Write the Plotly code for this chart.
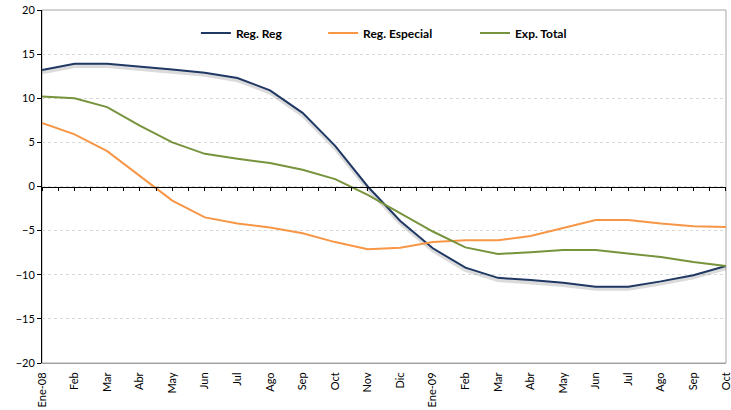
import plotly.graph_objects as go

categories = ["Ene-08", "Feb", "Mar", "Abr", "May", "Jun", "Jul", "Ago", "Sep", "Oct",
              "Nov", "Dic", "Ene-09", "Feb", "Mar", "Abr", "May", "Jun", "Jul", "Ago", "Sep", "Oct"]
reg_reg = [13.2, 13.9, 13.9, 13.6, 13.25, 12.9, 12.3, 10.9, 8.35, 4.6,
           0.0, -3.9, -7.0, -9.2, -10.35, -10.6, -10.9, -11.35, -11.35, -10.75, -10.05, -9.0]
reg_especial = [7.2, 5.9, 4.0, 1.2, -1.6, -3.5, -4.2, -4.65, -5.3, -6.3,
                -7.1, -6.95, -6.3, -6.1, -6.1, -5.6, -4.7, -3.8, -3.8, -4.2, -4.5, -4.6]
exp_total = [10.2, 10.0, 9.0, 6.9, 5.0, 3.7, 3.15, 2.65, 1.9, 0.84,
             -0.95, -3.0, -5.1, -6.9, -7.65, -7.45, -7.2, -7.2, -7.6, -8.0, -8.55, -9.0]

series = [
    ("Reg. Reg", reg_reg, "#1f3864", "legend"),
    ("Reg. Especial", reg_especial, "#f79646", "legend2"),
    ("Exp. Total", exp_total, "#77933c", "legend3"),
]

xs = list(range(len(categories)))
fig = go.Figure()

# soft shadow under the navy series (base subplot, slightly shifted range)
fig.add_trace(go.Scatter(x=xs, y=reg_reg, mode="lines", xaxis="x", yaxis="y",
                         line=dict(color="rgba(0,0,0,0.14)", width=4),
                         showlegend=False, hoverinfo="skip", cliponaxis=False))

for name, vals, color, lg in series:
    fig.add_trace(go.Scatter(x=xs, y=vals, mode="lines", name=name, xaxis="x2", yaxis="y2",
                             line=dict(color=color, width=2), legend=lg, cliponaxis=False))

font_family = "Lato"
legend_common = dict(orientation="h", yanchor="middle", y=0.935, xanchor="left",
                     bgcolor="rgba(0,0,0,0)", font=dict(family=font_family, size=12, color="#000000", weight="bold"),
                     itemwidth=30)

xr = [-0.001, 21.001]
fig.update_layout(
    width=731, height=410,
    margin=dict(l=42, r=5, t=10, b=47),
    paper_bgcolor="white", plot_bgcolor="white",
    font=dict(family=font_family, size=10, color="#000000"),
    showlegend=True,
    legend=dict(**legend_common, x=0.225),
    legend2=dict(**legend_common, x=0.411),
    legend3=dict(**legend_common, x=0.633),
    xaxis=dict(range=xr, tickmode="array", tickvals=xs, ticktext=categories,
               tickangle=-90, showgrid=False, zeroline=False, showline=True,
               linecolor="#a0a0a0", linewidth=1, ticks="", tickfont=dict(size=11),
               ticklabelstandoff=4, automargin=False, ticklabeloverflow="allow"),
    xaxis2=dict(range=xr, overlaying="x", anchor="free", position=0.5, side="bottom",
                showgrid=False, zeroline=False, showline=True, linecolor="#000000", linewidth=1,
                tickmode="linear", tick0=0, dtick=0.5, ticks="outside", ticklen=3,
                tickcolor="#000000", showticklabels=False),
    yaxis=dict(range=[-19.75, 20.25], visible=False, showgrid=False, zeroline=False),
    yaxis2=dict(range=[-20, 20], overlaying="y", anchor="x", side="left",
                tickmode="linear", tick0=-20, dtick=5, showgrid=True, gridcolor="#d9d9d9",
                griddash="dot", gridwidth=1, zeroline=False, showline=True,
                linecolor="#000000", linewidth=1, ticks="outside", ticklen=4,
                tickcolor="#000000", tickfont=dict(size=11), automargin=False,
                ticklabeloverflow="allow"),
    shapes=[dict(type="rect", xref="paper", yref="paper", x0=0, x1=1, y0=0, y1=1,
                 line=dict(color="#a6a6a6", width=1), layer="below")],
)

fig.write_html("out.html", config={"displayModeBar": False},
               post_script="document.body.style.margin='0';")
